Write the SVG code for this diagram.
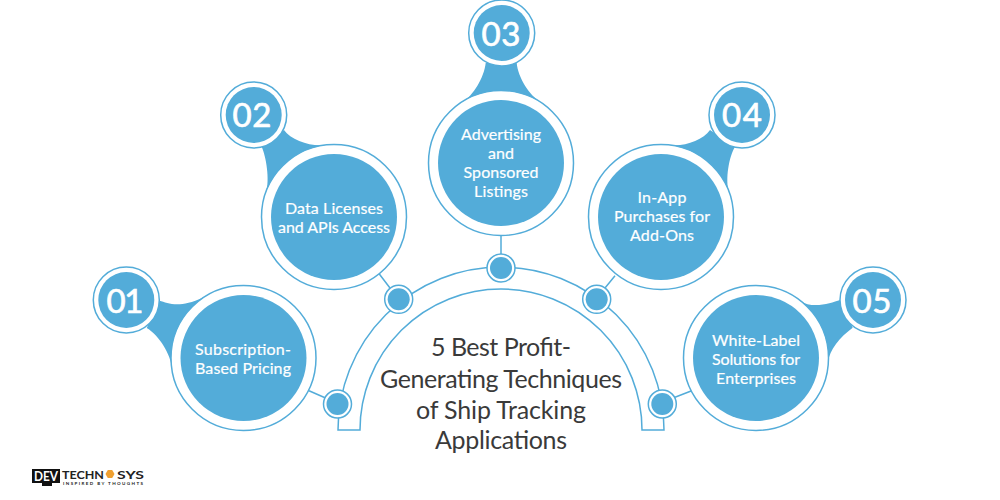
<svg xmlns="http://www.w3.org/2000/svg" width="1000" height="500" viewBox="0 0 1000 500">
<style>
.ring{fill:#fff;stroke:#53acd9;stroke-width:1.5}
.fill{fill:#53acd9}
.line{fill:none;stroke:#53acd9;stroke-width:1.5}
text{font-family:"Lato","Liberation Sans",sans-serif;text-anchor:middle}
.lab{fill:#fff;font-size:16px;stroke:#fff;stroke-width:.2}
.num{fill:#fff;font-size:33px;stroke:#fff;stroke-width:.7}
.title{fill:#3a3a3a;font-size:25px}
.logo{font-weight:700;fill:#222}
</style>
<rect width="1000" height="500" fill="#fff"/>
<g id="connectors">
<path class="line" d="M338 430A163 163 0 0 1 664 430H642A141 141 0 0 0 360 430Z"/>
<path class="line" d="M309 390.7L325 397.7M379.3 274L390 288M501 236V254M615 275.7L605 288M691.7 390.7L675 397.3"/>
</g>
<g id="node-1">
<path class="fill" d="M159.500 300.700C168 303 179 309 203 297.500L240 340L171.700 366.700C170.500 355 160 336 146.700 328Z"/>
<circle class="ring" cx="243.500" cy="358" r="72.500"/><circle class="fill" cx="243.500" cy="358" r="63"/>
<circle class="ring" cx="126.300" cy="300" r="33"/><circle class="fill" cx="126.300" cy="300" r="28"/>
<text class="num" x="125" y="313" textLength="37">01</text>
<text class="lab" x="243" y="355" textLength="96">Subscription-</text>
<text class="lab" x="243" y="374" textLength="96">Based Pricing</text>
</g>
<g id="node-2">
<path class="fill" d="M284 130C291 140 311 147 325 145L330 210L266 192C270 180 266 156 261.700 147Z"/>
<circle class="ring" cx="334" cy="217" r="72.500"/><circle class="fill" cx="334" cy="217" r="63"/>
<circle class="ring" cx="253.700" cy="115" r="33"/><circle class="fill" cx="253.700" cy="115" r="28"/>
<text class="num" x="252" y="127" textLength="39">02</text>
<text class="lab" x="334" y="214" textLength="98">Data Licenses</text>
<text class="lab" x="334" y="233" textLength="112">and APIs Access</text>
</g>
<g id="node-3">
<path class="fill" d="M485.700 63C484 78 473 95.700 463 101.700L501 150L540 101.700C530 95.500 518 78 516.700 63Z"/>
<circle class="ring" cx="501" cy="163" r="72.500"/><circle class="fill" cx="501" cy="163" r="63"/>
<circle class="ring" cx="501.700" cy="33" r="33"/><circle class="fill" cx="501.700" cy="33" r="28"/>
<text class="num" x="501" y="45.700" textLength="39">03</text>
<text class="lab" x="501" y="140" textLength="80">Advertising</text>
<text class="lab" x="501" y="159" textLength="26">and</text>
<text class="lab" x="501" y="178" textLength="75">Sponsored</text>
<text class="lab" x="501" y="197" textLength="54">Listings</text>
</g>
<g id="node-4">
<path class="fill" d="M710 130C703 140 684 147 670 145L665 210L729 192C725 180 729 156 735 147Z"/>
<circle class="ring" cx="661" cy="217" r="72.500"/><circle class="fill" cx="661" cy="217" r="63"/>
<circle class="ring" cx="742" cy="115" r="33"/><circle class="fill" cx="742" cy="115" r="28"/>
<text class="num" x="742" y="127" textLength="40">04</text>
<text class="lab" x="662" y="203" textLength="49">In-App</text>
<text class="lab" x="662" y="222" textLength="96">Purchases for</text>
<text class="lab" x="662" y="241" textLength="64">Add-Ons</text>
</g>
<g id="node-5">
<path class="fill" d="M840 300C831 303 812 309.500 800 300.400L760 340L828.300 362C829 350 840 337 852.700 327.700Z"/>
<circle class="ring" cx="756" cy="358" r="72.500"/><circle class="fill" cx="756" cy="358" r="63"/>
<circle class="ring" cx="873" cy="300" r="33"/><circle class="fill" cx="873" cy="300" r="28"/>
<text class="num" x="872" y="313" textLength="39">05</text>
<text class="lab" x="756" y="346" textLength="88">White-Label</text>
<text class="lab" x="756" y="365" textLength="88">Solutions for</text>
<text class="lab" x="756" y="384" textLength="80">Enterprises</text>
</g>
<g id="junctions">
<g id="dot-1"><circle class="ring" cx="337.500" cy="404" r="14"/><circle class="fill" cx="337.500" cy="404" r="11"/></g>
<g id="dot-2"><circle class="ring" cx="398.700" cy="299.300" r="14"/><circle class="fill" cx="398.700" cy="299.300" r="11"/></g>
<g id="dot-3"><circle class="ring" cx="501" cy="268" r="14"/><circle class="fill" cx="501" cy="268" r="11"/></g>
<g id="dot-4"><circle class="ring" cx="596.700" cy="299.300" r="14"/><circle class="fill" cx="596.700" cy="299.300" r="11"/></g>
<g id="dot-5"><circle class="ring" cx="662.300" cy="404" r="14"/><circle class="fill" cx="662.300" cy="404" r="11"/></g>
</g>
<g id="title">
<text class="title" x="501" y="356" textLength="140">5 Best Profit-</text>
<text class="title" x="501" y="388" textLength="242">Generating Techniques</text>
<text class="title" x="501" y="419" textLength="170">of Ship Tracking</text>
<text class="title" x="501" y="449" textLength="132">Applications</text>
</g>
<g id="logo">
<rect x="32" y="469" width="28" height="14" fill="#111"/>
<rect x="42" y="483" width="10" height="3" fill="#111"/>
<text x="46" y="481" font-size="13" font-weight="700" fill="#fff" textLength="24" lengthAdjust="spacingAndGlyphs">DEV</text>
<text class="logo" x="83" y="478.500" font-size="12" textLength="42" lengthAdjust="spacingAndGlyphs">TECHN</text>
<polygon points="105.500,474 107.800,470 112.200,470 114.500,474 112.200,478 107.800,478" fill="#f0a030"/>
<text class="logo" x="130.500" y="478.500" font-size="12" textLength="27" lengthAdjust="spacingAndGlyphs">SYS</text>
<text class="logo" x="103" y="484.500" font-size="4.500" textLength="80">INSPIRED BY THOUGHTS</text>
</g>
</svg>
